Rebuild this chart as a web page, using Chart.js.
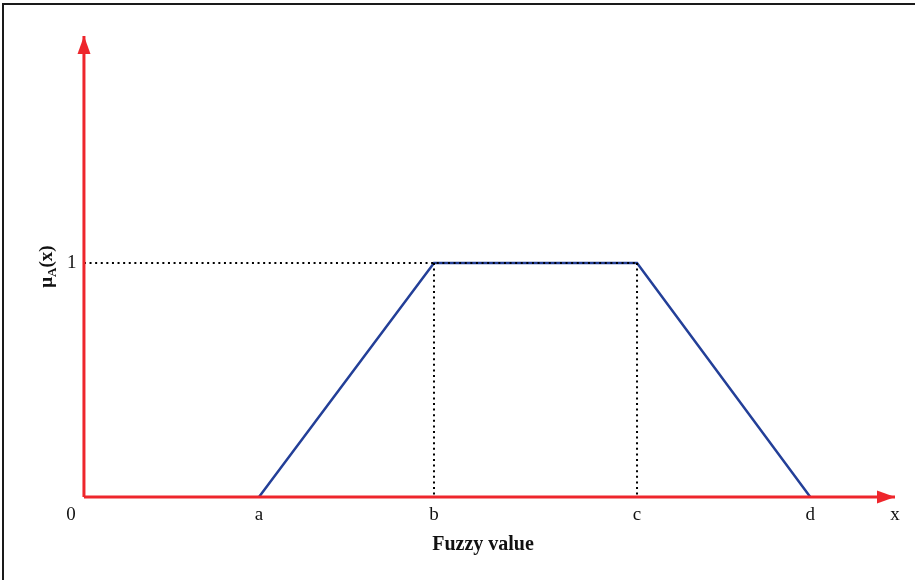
<!doctype html>
<html lang="en">
<head>
    <meta charset="utf-8">
    <script src="https://cdn.jsdelivr.net/npm/chart.js"></script>
    <style>
        body { margin: 0; background: #fff; }
        #wrap { position: relative; width: 915px; height: 580px; overflow: hidden; }
        #frame { position: absolute; left: 2px; top: 3px; right: -5px; bottom: -5px;
                 border-top: 2px solid #1a1a1a; border-left: 2px solid #1a1a1a; }
        #myGraph { position: absolute; left: 0; top: 0; }
    </style>
</head>
<body>
    <div id="wrap">
        <div id="frame"></div>
        <canvas id="myGraph" width="915" height="580"></canvas>
    </div>

    <script>
        // tick positions (a = 1 unit) and their labels
        var xTicks = [-0.074, 1, 2, 3.16, 4.15, 4.634];
        var xLabels = ['0', 'a', 'b', 'c', 'd', 'x'];
        var yTicks = [1];
        var yLabels = ['1'];
        // trapezoid corners a, b, c, d
        var trapX = [1, 2, 3.16, 4.15];
        var trapY = [0, 1, 1, 0];
        var xMin = -0.074, xMax = 4.634, yMax = 1.97;

        var red = '#ee262c';
        var blue = '#233f98';

        // arrow head, tip at the centre of the image, pointing up
        function makeArrow(len, half, color) {
            var c = document.createElement('canvas');
            c.width = len * 2;
            c.height = len * 2;
            var g = c.getContext('2d');
            g.fillStyle = color;
            g.beginPath();
            g.moveTo(len, len);
            g.lineTo(len - half, len * 2);
            g.lineTo(len + half, len * 2);
            g.closePath();
            g.fill();
            return c;
        }
        var arrow = makeArrow(18, 6.5, red);

        function pts(xs, ys) {
            return xs.map(function (x, i) { return { x: x, y: ys[i] }; });
        }

        var dotted = {
            borderColor: '#000',
            borderWidth: 2,
            borderDash: [2, 3.6],
            pointRadius: 0,
            order: 1
        };

        // y title with subscript A, drawn sideways
        var yTitle = {
            id: 'yTitle',
            afterDraw: function (chart) {
                var ctx = chart.ctx;
                var area = chart.chartArea;
                var big = 'bold 19px "Liberation Serif"';
                var small = 'bold 13px "Liberation Serif"';
                ctx.save();
                ctx.fillStyle = '#111';
                ctx.textBaseline = 'alphabetic';
                ctx.font = big;
                var w1 = ctx.measureText('\u03bc').width;
                var w3 = ctx.measureText('(x)').width;
                ctx.font = small;
                var w2 = ctx.measureText('A').width;
                var total = w1 + w2 + w3;
                ctx.translate(52, (area.top + area.bottom) / 2);
                ctx.rotate(-Math.PI / 2);
                var x = -total / 2;
                ctx.font = big;
                ctx.fillText('\u03bc', x, 0);
                x += w1;
                ctx.font = small;
                ctx.fillText('A', x, 4);
                x += w2;
                ctx.font = big;
                ctx.fillText('(x)', x, 0);
                ctx.restore();
            }
        };

        var data = {
            datasets: [
                {
                    label: 'x axis',
                    data: pts([0, xMax], [0, 0]),
                    borderColor: red,
                    borderWidth: 3,
                    pointRadius: [0, 8],
                    pointStyle: arrow,
                    pointRotation: 90,
                    clip: false,
                    order: 0
                },
                {
                    label: 'y axis',
                    data: pts([0, 0], [0, yMax]),
                    borderColor: red,
                    borderWidth: 3,
                    pointRadius: [0, 8],
                    pointStyle: arrow,
                    pointRotation: 0,
                    clip: false,
                    order: 0
                },
                Object.assign({ label: 'level 1', data: pts([0, trapX[2]], [1, 1]) }, dotted),
                Object.assign({ label: 'b drop', data: pts([trapX[1], trapX[1]], [1, 0]) }, dotted),
                Object.assign({ label: 'c drop', data: pts([trapX[2], trapX[2]], [1, 0]) }, dotted),
                {
                    label: 'membership',
                    data: pts(trapX, trapY),
                    borderColor: blue,
                    borderWidth: 2.5,
                    pointRadius: 0,
                    order: 2
                }
            ]
        };

        var config = {
            type: 'line',
            data: data,
            options: {
                responsive: false,
                animation: false,
                events: [],
                layout: { padding: { left: 30, right: 20, top: 36, bottom: 20 } },
                plugins: {
                    legend: { display: false },
                    tooltip: { enabled: false }
                },
                scales: {
                    x: {
                        type: 'linear',
                        min: xMin,
                        max: xMax,
                        grid: { display: false, drawTicks: false },
                        border: { display: false },
                        afterBuildTicks: function (scale) {
                            scale.ticks = xTicks.map(function (v) { return { value: v }; });
                        },
                        afterFit: function (scale) { scale.height = 63; },
                        ticks: {
                            autoSkip: false,
                            maxRotation: 0,
                            padding: 7,
                            color: '#111',
                            font: { family: 'Liberation Serif', size: 19 },
                            callback: function (value, index) { return xLabels[index]; }
                        },
                        title: {
                            display: true,
                            text: 'Fuzzy value',
                            color: '#111',
                            padding: { top: 0, bottom: 3 },
                            font: { family: 'Liberation Serif', size: 20, weight: 'bold' }
                        }
                    },
                    y: {
                        type: 'linear',
                        min: 0,
                        max: yMax,
                        grid: { display: false, drawTicks: false },
                        border: { display: false },
                        afterBuildTicks: function (scale) {
                            scale.ticks = yTicks.map(function (v) { return { value: v }; });
                        },
                        afterFit: function (scale) { scale.width = 41; },
                        ticks: {
                            mirror: true,
                            padding: -4,
                            color: '#111',
                            font: { family: 'Liberation Serif', size: 19 },
                            callback: function (value, index) { return yLabels[index]; }
                        }
                    }
                }
            },
            plugins: [yTitle]
        };

        var myChart = new Chart(document.getElementById('myGraph'), config);
    </script>
</body>
</html>
